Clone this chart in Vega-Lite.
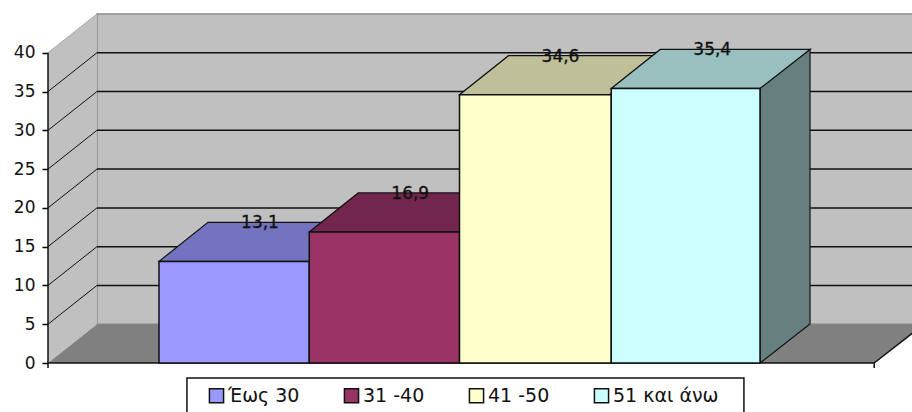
{
  "$schema": "https://vega.github.io/schema/vega-lite/v6.json",
  "width": 864,
  "height": 349,
  "autosize": "none",
  "padding": {"left": 48, "top": 14, "right": 0, "bottom": 49},
  "background": "#ffffff",
  "config": {
    "view": {"stroke": null},
    "font": "DejaVu Sans",
    "locale": {"number": {"decimal": ",", "thousands": ".", "grouping": [3], "currency": ["", " €"]}}
  },
  "datasets": {
    "bars": [
      {"group": "Έως 30", "start": 0, "end": 1, "value": 13.1},
      {"group": "31 -40", "start": 1, "end": 2, "value": 16.9},
      {"group": "41 -50", "start": 2, "end": 3.01, "value": 34.6},
      {"group": "51 και άνω", "start": 3.01, "end": 4, "value": 35.4}
    ],
    "levels": [
      {"level": 5, "back": 10},
      {"level": 10, "back": 15},
      {"level": 15, "back": 20},
      {"level": 20, "back": 25},
      {"level": 25, "back": 30},
      {"level": 30, "back": 35},
      {"level": 35, "back": 40}
    ]
  },
  "layer": [
    {
      "description": "Back wall, which also carries the value axis",
      "data": {"values": [{"left": -0.413, "right": 5.2, "floor": 5, "ceiling": 45}]},
      "mark": {"type": "rect", "fill": "#c0c0c0", "stroke": "#8a8a8a", "strokeWidth": 1.5},
      "encoding": {
        "x": {"field": "left", "type": "quantitative", "axis": null, "scale": {"domain": [-0.7388, 5.0116], "nice": false, "zero": false}},
        "x2": {"field": "right"},
        "y": {"field": "floor", "type": "quantitative", "title": null, "axis": {"values": [0, 5, 10, 15, 20, 25, 30, 35, 40], "title": null, "grid": false, "domain": false, "ticks": true, "tickColor": "#000000", "tickSize": 6, "tickWidth": 1.5, "labelFontSize": 17, "labelColor": "#111111", "labelPadding": 7, "labelOverlap": false}, "scale": {"domain": [0, 45], "nice": false, "zero": false}},
        "y2": {"field": "ceiling"}
      }
    },
    {
      "description": "Left wall",
      "data": {"values": [{"at": -0.7388, "low": 0, "high": 40}, {"at": -0.413, "low": 5, "high": 45}]},
      "mark": {"type": "area", "fill": "#c0c0c0", "opacity": 1},
      "encoding": {
        "x": {"field": "at", "type": "quantitative", "axis": null, "scale": {"domain": [-0.7388, 5.0116], "nice": false, "zero": false}},
        "y": {"field": "low", "type": "quantitative", "title": null, "scale": {"domain": [0, 45], "nice": false, "zero": false}},
        "y2": {"field": "high"}
      }
    },
    {
      "description": "Floor",
      "data": {"values": [{"depth": 0, "left": -0.7388, "right": 4.76}, {"depth": 5, "left": -0.413, "right": 5.09}]},
      "mark": {"type": "area", "orient": "horizontal", "fill": "#808080", "opacity": 1},
      "encoding": {
        "x": {"field": "left", "type": "quantitative", "axis": null, "scale": {"domain": [-0.7388, 5.0116], "nice": false, "zero": false}},
        "x2": {"field": "right"},
        "y": {"field": "depth", "type": "quantitative", "title": null, "scale": {"domain": [0, 45], "nice": false, "zero": false}}
      }
    },
    {
      "description": "Top edge of the left wall",
      "data": {"values": [{"x0": -0.7388, "x1": -0.413, "y0": 40, "y1": 45}]},
      "mark": {"type": "rule", "stroke": "#a8a8a8", "strokeWidth": 1},
      "encoding": {
        "x": {"field": "x0", "type": "quantitative", "axis": null, "scale": {"domain": [-0.7388, 5.0116], "nice": false, "zero": false}},
        "x2": {"field": "x1"},
        "y": {"field": "y0", "type": "quantitative", "title": null, "scale": {"domain": [0, 45], "nice": false, "zero": false}},
        "y2": {"field": "y1"}
      }
    },
    {
      "description": "Gridlines across the back wall",
      "data": {"name": "levels"},
      "mark": {"type": "rule", "stroke": "#111111", "strokeWidth": 1.5},
      "encoding": {
        "x": {"datum": -0.413, "type": "quantitative", "axis": null, "scale": {"domain": [-0.7388, 5.0116], "nice": false, "zero": false}},
        "x2": {"datum": 5.2},
        "y": {"field": "back", "type": "quantitative", "title": null, "scale": {"domain": [0, 45], "nice": false, "zero": false}}
      }
    },
    {
      "description": "Gridlines running up the left wall",
      "data": {"name": "levels"},
      "mark": {"type": "rule", "stroke": "#111111", "strokeWidth": 1},
      "encoding": {
        "x": {"datum": -0.7388, "type": "quantitative", "axis": null, "scale": {"domain": [-0.7388, 5.0116], "nice": false, "zero": false}},
        "x2": {"datum": -0.413},
        "y": {"field": "level", "type": "quantitative", "title": null, "scale": {"domain": [0, 45], "nice": false, "zero": false}},
        "y2": {"field": "back"}
      }
    },
    {
      "description": "Value axis line, floor front edge, floor right edge and end ticks",
      "data": {"values": [
        {"x0": -0.7388, "x1": -0.7388, "y0": 0, "y1": 40},
        {"x0": -0.7388, "x1": 4.76, "y0": 0, "y1": 0},
        {"x0": 4.76, "x1": 5.09, "y0": 0, "y1": 5},
        {"x0": -0.7388, "x1": -0.7388, "y0": 0, "y1": -0.65},
        {"x0": 4.76, "x1": 4.76, "y0": 0, "y1": -0.65}
      ]},
      "mark": {"type": "rule", "stroke": "#111111", "strokeWidth": 1.5},
      "encoding": {
        "x": {"field": "x0", "type": "quantitative", "axis": null, "scale": {"domain": [-0.7388, 5.0116], "nice": false, "zero": false}},
        "x2": {"field": "x1"},
        "y": {"field": "y0", "type": "quantitative", "title": null, "scale": {"domain": [0, 45], "nice": false, "zero": false}},
        "y2": {"field": "y1"}
      }
    },
    {
      "description": "Top faces, a fixed oblique shape anchored on each bar's top front corner",
      "data": {"name": "bars"},
      "mark": {"type": "point", "filled": true, "opacity": 1, "size": 4, "shape": "M0,0L150,0L199,-39L49,-39Z", "stroke": "#111111", "strokeWidth": 1.2},
      "encoding": {
        "x": {"field": "start", "type": "quantitative", "axis": null, "scale": {"domain": [-0.7388, 5.0116], "nice": false, "zero": false}},
        "y": {"field": "value", "type": "quantitative", "title": null, "scale": {"domain": [0, 45], "nice": false, "zero": false}},
        "color": {"field": "group", "type": "nominal", "legend": null, "scale": {"domain": ["Έως 30", "31 -40", "41 -50", "51 και άνω"], "range": ["#7373bf", "#73264d", "#bfbf99", "#99bfbf"]}}
      }
    },
    {
      "description": "Side face of the last bar",
      "data": {"name": "bars"},
      "transform": [{"filter": {"field": "group", "equal": "51 και άνω"}}],
      "mark": {"type": "point", "filled": true, "opacity": 1, "size": 4, "shape": "M0,0L50,-39L50,235.6L0,274.6Z", "fill": "#668080", "stroke": "#111111", "strokeWidth": 1.2},
      "encoding": {
        "x": {"field": "end", "type": "quantitative", "axis": null, "scale": {"domain": [-0.7388, 5.0116], "nice": false, "zero": false}},
        "y": {"field": "value", "type": "quantitative", "title": null, "scale": {"domain": [0, 45], "nice": false, "zero": false}}
      }
    },
    {
      "description": "Legend frame",
      "data": {"values": [{"left": 0.186, "right": 3.893, "top": -1.93, "bottom": -8}]},
      "mark": {"type": "rect", "fill": "#ffffff", "stroke": "#111111", "strokeWidth": 1.5},
      "encoding": {
        "x": {"field": "left", "type": "quantitative", "axis": null, "scale": {"domain": [-0.7388, 5.0116], "nice": false, "zero": false}},
        "x2": {"field": "right"},
        "y": {"field": "top", "type": "quantitative", "title": null, "scale": {"domain": [0, 45], "nice": false, "zero": false}},
        "y2": {"field": "bottom"}
      }
    },
    {
      "description": "Front faces of the bars and the legend",
      "data": {"name": "bars"},
      "mark": {"type": "rect", "stroke": "#111111", "strokeWidth": 1.5},
      "encoding": {
        "x": {"field": "start", "type": "quantitative", "axis": null, "scale": {"domain": [-0.7388, 5.0116], "nice": false, "zero": false}},
        "x2": {"field": "end"},
        "y": {"field": "value", "type": "quantitative", "title": null, "scale": {"domain": [0, 45], "nice": false, "zero": false}},
        "y2": {"datum": 0},
        "color": {
          "field": "group",
          "type": "nominal",
          "scale": {"domain": ["Έως 30", "31 -40", "41 -50", "51 και άνω"], "range": ["#9999ff", "#993366", "#ffffcc", "#ccffff"]},
          "legend": {
            "title": null,
            "orient": "none",
            "legendX": 159,
            "legendY": 372,
            "direction": "horizontal",
            "columns": 4,
            "columnPadding": 41,
            "symbolType": "square",
            "symbolSize": 200,
            "symbolStrokeColor": "#111111",
            "symbolStrokeWidth": 1.5,
            "symbolOpacity": 1,
            "labelFontSize": 19,
            "labelColor": "#111111",
            "labelOffset": 2,
            "padding": 0
          }
        }
      }
    },
    {
      "description": "Value labels over the back edge of each top face",
      "data": {"name": "bars"},
      "mark": {"type": "text", "dx": 101, "dy": -38, "baseline": "middle", "align": "center", "fontSize": 17, "color": "#111111", "stroke": "#111111", "strokeWidth": 0.3},
      "encoding": {
        "x": {"field": "start", "type": "quantitative", "axis": null, "scale": {"domain": [-0.7388, 5.0116], "nice": false, "zero": false}},
        "y": {"field": "value", "type": "quantitative", "title": null, "scale": {"domain": [0, 45], "nice": false, "zero": false}},
        "text": {"field": "value", "type": "quantitative", "format": ".1f"}
      }
    }
  ],
  "resolve": {"scale": {"color": "independent"}}
}
